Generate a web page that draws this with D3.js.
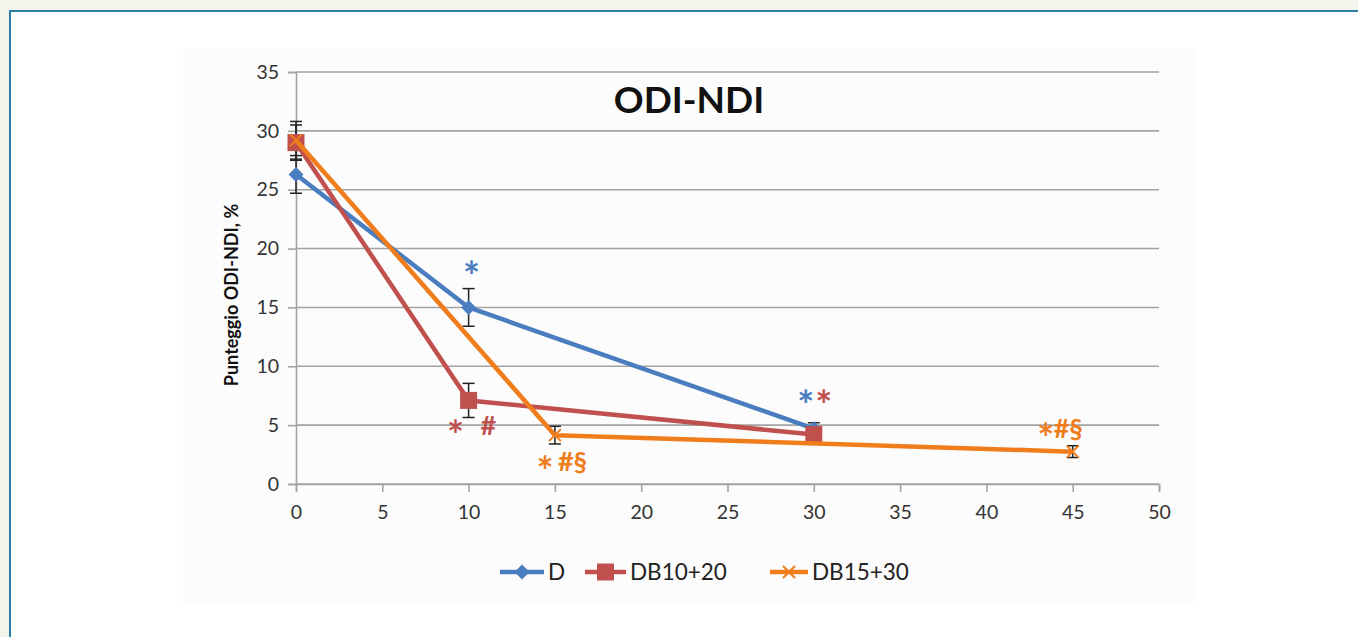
<!DOCTYPE html>
<html>
<head>
<meta charset="utf-8">
<script src="https://cdn.jsdelivr.net/npm/d3@7"></script>
<style>
  body { margin: 0; background: #f3f5ec; }
  #frame { position: absolute; left: 9px; top: 10px; right: 0; bottom: 0; background: #fff;
           border-left: 2px solid #2b7fa3; border-top: 2px solid #2b7fa3; }
  svg { position: absolute; left: 0; top: 0; }
</style>
</head>
<body>
<div id="frame"></div>
<svg id="chart" width="1358" height="637"></svg>
<script>
/* valeurs */
const xTicks = [0, 5, 10, 15, 20, 25, 30, 35, 40, 45, 50]
const yTicks = [0, 5, 10, 15, 20, 25, 30, 35]

const seriesNames = ['D', 'DB10+20', 'DB15+30']
const colors = ['#4a7dbf', '#c0504d', '#ef7d1b']

const dTimes = [0, 10, 30]
const dValues = [26.3, 15.0, 4.7]
const dErr = [1.6, 1.6, 0.5]

const db1020Times = [0, 10, 30]
const db1020Values = [29.0, 7.1, 4.2]
const db1020Err = [1.5, 1.45, 0.5]

const db1530Times = [0, 15, 45]
const db1530Values = [29.2, 4.15, 2.75]
const db1530Err = [1.6, 0.75, 0.5]

/* annotations de significativité : temps, valeur, texte, série */
const noteTimes  = [10, 10, 10, 15, 15, 30, 30, 45, 45]
const noteValues = [18.5, 5.0, 5.0, 1.9, 1.9, 7.55, 7.55, 4.75, 4.75]
const noteTexts  = ['*', '*', '#', '*', '#§', '*', '*', '*', '#§']
const noteSeries = [0, 1, 1, 2, 2, 0, 1, 2, 2]
/* décalage horizontal en px de chaque annotation */
const noteDx = [3, -13, 12, -10, 3, -8, 10, -27, -19]

const series = [
  {times: dTimes, values: dValues, err: dErr, marker: 'diamond'},
  {times: db1020Times, values: db1020Values, err: db1020Err, marker: 'square'},
  {times: db1530Times, values: db1530Values, err: db1530Err, marker: 'cross'}
]

const margin = {top: 72, right: 199, bottom: 153, left: 296}
const width = 1358, height = 637
const font = 'Lato, sans-serif'

const svg = d3.select('#chart')

const x = d3.scaleLinear().domain([0, 50]).range([margin.left, width - margin.right])
const y = d3.scaleLinear().domain([0, 35]).range([height - margin.bottom, margin.top])

/* fond de la zone du graphique */
svg.append('rect')
  .attr('x', 183).attr('y', 48).attr('width', 1012).attr('height', 557)
  .attr('fill', '#fcfcfc')

/* grille */
svg.append('g')
  .selectAll('line')
  .data(yTicks)
  .enter()
  .append('line')
  .attr('x1', x(0)).attr('x2', x(50))
  .attr('y1', d => y(d)).attr('y2', d => y(d))
  .attr('stroke', '#a3a3a3')
  .attr('stroke-width', 1.6)

const styleAxis = g => {
  g.select('.domain').attr('stroke', '#a3a3a3').attr('stroke-width', 1.6)
  g.selectAll('.tick line').attr('stroke', '#a3a3a3').attr('stroke-width', 1.6)
  g.selectAll('.tick text').attr('font-size', 19.5).attr('fill', '#333').attr('font-family', font)
}

/* axe y */
svg.append('g')
  .attr('transform', `translate(${x(0)},0)`)
  .call(d3.axisLeft(y).tickValues(yTicks).tickSize(8).tickPadding(9))
  .call(styleAxis)

/* axe x */
svg.append('g')
  .attr('transform', `translate(0,${y(0)})`)
  .call(d3.axisBottom(x).tickValues(xTicks).tickSize(8).tickPadding(13))
  .call(styleAxis)

/* titre */
svg.append('text')
  .attr('x', 689).attr('y', 113)
  .attr('text-anchor', 'middle')
  .attr('font-family', font)
  .attr('font-weight', 'bold')
  .attr('font-size', 37)
  .attr('fill', '#111')
  .text('ODI-NDI')

/* titre de l'axe y */
svg.append('text')
  .attr('transform', `translate(238,${(y(0) + y(35)) / 2 + 17}) rotate(-90)`)
  .attr('text-anchor', 'middle')
  .attr('font-family', font)
  .attr('font-weight', 'bold')
  .attr('font-size', 18)
  .attr('fill', '#111')
  .text('Punteggio ODI-NDI, %')

/* barres d'erreur */
const errG = svg.append('g')
series.forEach(s => {
  s.times.forEach((t, i) => {
    const cx = x(t), top = y(s.values[i] + s.err[i]), bot = y(s.values[i] - s.err[i])
    errG.append('line').attr('x1', cx).attr('x2', cx).attr('y1', top).attr('y2', bot)
      .attr('stroke', '#222').attr('stroke-width', 1.5)
    ;[top, bot].forEach(yy => {
      errG.append('line').attr('x1', cx - 6).attr('x2', cx + 6).attr('y1', yy).attr('y2', yy)
        .attr('stroke', '#222').attr('stroke-width', 1.5)
    })
  })
})

/* dessin des marqueurs */
const drawMarker = (g, type, cx, cy, color) => {
  if (type === 'diamond') {
    const r = 7.5
    g.append('path')
      .attr('d', `M${cx},${cy - r}L${cx + r},${cy}L${cx},${cy + r}L${cx - r},${cy}Z`)
      .attr('fill', color)
  } else if (type === 'square') {
    const r = 8.5
    g.append('rect').attr('x', cx - r).attr('y', cy - r).attr('width', 2 * r).attr('height', 2 * r)
      .attr('fill', color)
  } else {
    const r = 6
    g.append('path')
      .attr('d', `M${cx - r},${cy - r}L${cx + r},${cy + r}M${cx - r},${cy + r}L${cx + r},${cy - r}`)
      .attr('stroke', color).attr('stroke-width', 2)
  }
}

/* lignes */
const line = d3.line().x(d => x(d[0])).y(d => y(d[1]))
series.forEach((s, k) => {
  const pts = s.times.map((t, i) => [t, s.values[i]])
  svg.append('path')
    .datum(pts)
    .attr('d', line)
    .attr('fill', 'none')
    .attr('stroke', colors[k])
    .attr('stroke-width', 4.5)
    .attr('stroke-linejoin', 'round')
  const mg = svg.append('g')
  pts.forEach(p => drawMarker(mg, s.marker, x(p[0]), y(p[1]), colors[k]))
})

/* annotations */
noteTexts.forEach((txt, i) => {
  const star = txt === '*'
  svg.append('text')
    .attr('x', x(noteTimes[i]) + noteDx[i])
    .attr('y', y(noteValues[i]))
    .attr('dy', star ? '0.62em' : '0.36em')
    .attr('text-anchor', star ? 'middle' : 'start')
    .attr('font-family', font)
    .attr('font-weight', 'bold')
    .attr('font-size', star ? 40 : 27)
    .attr('fill', colors[noteSeries[i]])
    .text(txt)
})

/* légende */
const legendX = [500, 585, 770]
const legendTextX = [548, 630, 812]
const legendY = 572
seriesNames.forEach((name, k) => {
  const g = svg.append('g')
  g.append('line')
    .attr('x1', legendX[k]).attr('x2', legendTextX[k] - 4)
    .attr('y1', legendY).attr('y2', legendY)
    .attr('stroke', colors[k]).attr('stroke-width', 4.5)
  drawMarker(g, series[k].marker, (legendX[k] + legendTextX[k] - 4) / 2, legendY, colors[k])
  g.append('text')
    .attr('x', legendTextX[k]).attr('y', legendY + 8)
    .attr('font-family', font)
    .attr('font-size', 22.5)
    .attr('fill', '#222')
    .text(name)
})
</script>
</body>
</html>
